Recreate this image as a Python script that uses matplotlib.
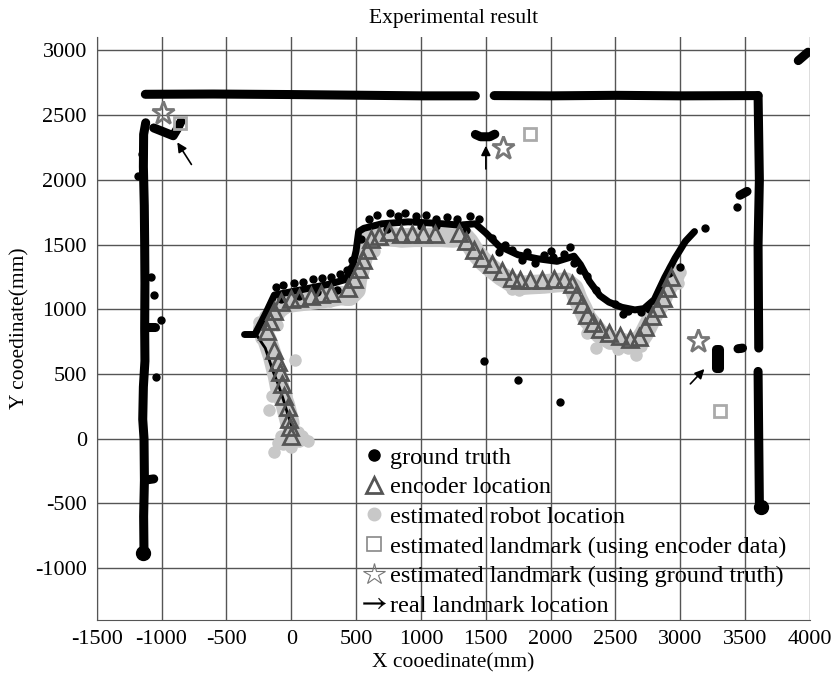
import numpy as np
import matplotlib.pyplot as plt
from matplotlib.lines import Line2D

plt.rcParams['font.family'] = ['Liberation Serif', 'DejaVu Serif']
plt.rcParams['mathtext.fontset'] = 'stix'
plt.rcParams['axes.unicode_minus'] = False

# -------------------- Data (mm) --------------------
# ground truth: walls seen by the robot
left_wall_x = [-1135, -1138, -1132, -1135, -1145, -1140, -1128, -1130, -1128, -1130, -1133, -1140, -1138, -1122]
left_wall_y = [-900, -600, -320, 0, 150, 400, 600, 850, 1200, 1500, 1800, 2100, 2350, 2440]
top_wall_a_x = [-1125, -600, 0, 600, 1000, 1420]
top_wall_a_y = [2660, 2662, 2658, 2652, 2648, 2648]
top_wall_b_x = [1565, 2000, 2500, 3000, 3600]
top_wall_b_y = [2650, 2648, 2652, 2648, 2650]
right_wall_a_x = [3600, 3610, 3600, 3605]
right_wall_a_y = [2650, 2000, 1500, 700]
right_wall_b_x = [3600, 3605, 3610, 3625]
right_wall_b_y = [520, 0, -500, -545]
corner_x = [3910, 3985]
corner_y = [2920, 2985]
stub_x = [[-1130, -1050], [-1130, -1060], [3460, 3515], [3445, 3480]]
stub_y = [[860, 860], [-320, -310], [1880, 1910], [695, 700]]
lm1_track_x = [-1060, -960, -910, -880, -850]
lm1_track_y = [2400, 2360, 2340, 2390, 2450]
lm2_track_x = [1420, 1460, 1530, 1570]
lm2_track_y = [2350, 2332, 2332, 2352]
lm3_track_x = [3278, 3278, 3300, 3300]
lm3_track_y = [690, 545, 545, 690]
gt_dots_x = [-1060, -1005, -1040, -1180, 1490, 1750, 2075, 3440, 3460, -1085, -1150]
gt_dots_y = [1110, 920, 480, 2030, 600, 455, 285, 1790, 700, 1250, 2200]

# ground truth: robot path
path_x = [-360, -280, -200, -130, 0, 150, 300, 420, 470, 500, 520, 560, 700, 900, 1100, 1300, 1420,
          1500, 1600, 1750, 1900, 2050, 2180, 2230, 2300, 2380, 2450, 2550, 2650, 2720, 2800, 2880,
          2960, 3040, 3110]
path_y = [805, 805, 960, 1110, 1135, 1165, 1195, 1230, 1320, 1450, 1600, 1625, 1660, 1675, 1665, 1650, 1660,
          1590, 1490, 1420, 1390, 1370, 1410, 1345, 1215, 1105, 1055, 1015, 995, 1005, 1075, 1245,
          1395, 1525, 1600]
path_low_x = [10, -30, -60, -100, -140, -200, -260]
path_low_y = [80, 200, 300, 420, 520, 700, 790]
path_dots_x = [-120, -60, 20, 90, 170, 240, 310, 380, 430, 600, 660, 760, 820, 880, 960, 1040, 1120, 1200,
               1280, 1380, 1550, 1650, 1700, 1820, 1950, 2000, 2100, 2150, 2230, 2500, 2600, 2700,
               2760, 3000, 3190, 460, 1120, 2020, -80, 60, 200, 350, 470, 540, 740, 1000, 1350, 1450,
               1600, 1780, 1880, 2180, 2280, 2350, 2560, 2830, 2910]
path_dots_y = [1170, 1190, 1200, 1210, 1230, 1240, 1250, 1270, 1300, 1700, 1730, 1745, 1720, 1740, 1720, 1730,
               1700, 1715, 1700, 1720, 1550, 1500, 1460, 1440, 1420, 1450, 1430, 1480, 1300, 1040, 990, 980,
               1000, 1330, 1630, 1320, 1640, 1400, 1080, 1100, 1130, 1150, 1380, 1540, 1620, 1640, 1610, 1700,
               1440, 1380, 1360, 1360, 1260, 1150, 960, 1120, 1280]

# encoder locations
enc_x = [0, -10, -17, -25, -52, -70, -90, -103, -129, -188, -167, -129, -77, 0, 63, 153, 231, 308, 435,
         486, 519, 550, 581, 615, 679, 756, 846, 930, 1017, 1109, 1294, 1350, 1409, 1473, 1550, 1627,
         1704, 1768, 1845, 1934, 2024, 2101, 2165, 2196, 2242, 2280, 2324, 2383, 2447, 2537, 2614, 2678,
         2729, 2780, 2819, 2863, 2896, 2930]
enc_y = [20, 92, 154, 246, 331, 423, 515, 594, 687, 833, 910, 987, 1053, 1077, 1090, 1102, 1115, 1123, 1166,
         1236, 1313, 1384, 1461, 1543, 1569, 1595, 1584, 1584, 1584, 1584, 1590, 1525, 1461, 1397, 1346, 1294,
         1243, 1225, 1225, 1225, 1230, 1236, 1192, 1107, 1038, 953, 897, 846, 820, 794, 774, 782,
         866, 948, 1013, 1090, 1166, 1251]

# estimated robot location
est_x = [-10, -30, -45, -70, -90, -105, -125, -145, -165, -185, -205, -220, -180, -150, -100, -50, 0, 80,
         150, 230, 300, 380, 450, 500, 510, 530, 550, 560, 580, 620, 700, 780, 850, 950, 1050, 1150, 1250,
         1330, 1370, 1420, 1480, 1550, 1620, 1700, 1780, 1850, 1950, 2050, 2120, 2180, 2210, 2250, 2280,
         2330, 2380, 2450, 2530, 2600, 2680, 2720, 2760, 2800, 2850, 2880, 2920, 2960]
est_y = [120, 200, 260, 330, 400, 480, 560, 640, 700, 760, 800, 850, 880, 930, 1000, 1040, 1050, 1060,
         1070, 1080, 1090, 1105, 1100, 1150, 1230, 1300, 1380, 1460, 1520, 1550, 1575, 1560, 1550, 1555, 1555,
         1555, 1550, 1565, 1520, 1440, 1370, 1310, 1255, 1205, 1185, 1190, 1195, 1205, 1210, 1160, 1080,
         1000, 930, 870, 810, 770, 750, 730, 750, 810, 890, 970, 1050, 1130, 1200, 1260]
est_cloud_x = [-40, 0, 40, 60, -20, 20, 80, -60, 100, -100, 0, -80, 50, -130, 130, 30, -170, -150,
               -230, 3000, 2940, 2520, 2660, 2350, 1700, 1760, 2280, 1330, 600, 640, -250, 420, 1300,
               -200, -110, 2450, 2600, 2700, 2980, 1900, 1500, 560, 300]
est_cloud_y = [0, -30, 10, -20, 40, 60, 20, -40, 0, -30, -60, 20, 50, -100, -20, 610, 220, 330,
               780, 1290, 1320, 690, 650, 700, 1160, 1150, 820, 1560, 1490, 1450, 900, 1080, 1620,
               950, 880, 740, 700, 720, 1200, 1170, 1330, 1420, 1060]

# landmarks
lm_enc_x = [-860, 1841, 3310]
lm_enc_y = [2438, 2353, 215]
lm_gt_x = [-989, 1633, 3140]
lm_gt_y = [2515, 2246, 753]
arrow_tip_x = [-890, 1501, 3201]
arrow_tip_y = [2307, 2284, 554]
arrow_tail_x = [-758, 1501, 3063]
arrow_tail_y = [2100, 2062, 408]

# -------------------- Plot --------------------
fig = plt.figure(figsize=(8.35, 6.76), dpi=100)
ax = fig.add_axes([0.1158, 0.0828, 0.8542, 0.862])

light = '#c8c8c8'
ax.plot(est_x, est_y, color=light, lw=14, solid_capstyle='round', solid_joinstyle='round', zorder=2)
ax.plot(est_cloud_x, est_cloud_y, 'o', color=light, ms=8, zorder=2)

wall_kw = dict(color='black', lw=6.5, solid_capstyle='round', solid_joinstyle='round', zorder=3)
for xs, ys in [(left_wall_x, left_wall_y), (top_wall_a_x, top_wall_a_y), (top_wall_b_x, top_wall_b_y),
               (right_wall_a_x, right_wall_a_y), (right_wall_b_x, right_wall_b_y), (corner_x, corner_y),
               (lm1_track_x, lm1_track_y), (lm2_track_x, lm2_track_y), (lm3_track_x, lm3_track_y)]:
    ax.plot(xs, ys, **wall_kw)
for xs, ys in zip(stub_x, stub_y):
    ax.plot(xs, ys, **wall_kw)
ax.plot([-1140], [-880], 'o', color='black', ms=10, zorder=3)
ax.plot([3625], [-530], 'o', color='black', ms=10, zorder=3)
ax.plot(gt_dots_x, gt_dots_y, 'o', color='black', ms=5, zorder=3)

ax.plot(path_x, path_y, color='black', lw=5, solid_capstyle='round', solid_joinstyle='round', zorder=3)
ax.plot(path_low_x, path_low_y, color='black', lw=2, zorder=3)
ax.plot(path_dots_x, path_dots_y, 'o', color='black', ms=5, zorder=3)

ax.plot(enc_x, enc_y, '^', ls='none', ms=11, mfc='none', mec='#555555', mew=2, zorder=4)

ax.plot(lm_enc_x, lm_enc_y, 's', ls='none', ms=9, mfc='none', mec='#aaaaaa', mew=2, zorder=5)
ax.plot(lm_gt_x, lm_gt_y, '*', ls='none', ms=17, mfc='none', mec='#777777', mew=2, zorder=5)
for tx, ty, sx, sy in zip(arrow_tip_x, arrow_tip_y, arrow_tail_x, arrow_tail_y):
    ax.annotate('', xy=(tx, ty), xytext=(sx, sy),
                arrowprops=dict(arrowstyle='-|>', color='black', lw=1.2, mutation_scale=14), zorder=6)

ax.set_xlim(-1500, 4000)
ax.set_ylim(-1400, 3100)
ax.set_xticks(np.arange(-1500, 4001, 500))
ax.set_yticks(np.arange(-1000, 3001, 500))
ax.tick_params(labelsize=16, length=0, pad=7)
ax.grid(True, color='#555555', lw=1)
ax.set_axisbelow(True)
for side in ['top', 'right']:
    ax.spines[side].set_visible(False)
ax.spines['left'].set_color('#555555')
ax.spines['bottom'].set_color('#555555')

ax.set_title('Experimental result', fontsize=15.5, pad=10)
ax.set_xlabel('X cooedinate(mm)', fontsize=15.5, labelpad=3)
ax.set_ylabel('Y cooedinate(mm)', fontsize=15.5, labelpad=4)

handles = [
    Line2D([], [], ls='none', marker='o', color='black', ms=8),
    Line2D([], [], ls='none', marker='^', ms=12, mfc='none', mec='#555555', mew=2),
    Line2D([], [], ls='none', marker='o', color=light, ms=9),
    Line2D([], [], ls='none', marker='s', ms=10, mfc='none', mec='#888888', mew=1.2),
    Line2D([], [], ls='none', marker='*', ms=16, mfc='none', mec='#777777', mew=0.8),
    Line2D([], [], ls='none', marker='$\\rightarrow$', color='black', ms=16, mew=0.2),
]
labels = ['ground truth', 'encoder location', 'estimated robot location',
          'estimated landmark (using encoder data)', 'estimated landmark (using ground truth)',
          'real landmark location']
ax.legend(handles, labels, loc='upper left', bbox_to_anchor=(0.358, 0.318), frameon=False,
          fontsize=17.5, handlelength=0.8, handletextpad=0.25, labelspacing=0.31, borderpad=0)

fig.savefig('out.png', dpi=100)
